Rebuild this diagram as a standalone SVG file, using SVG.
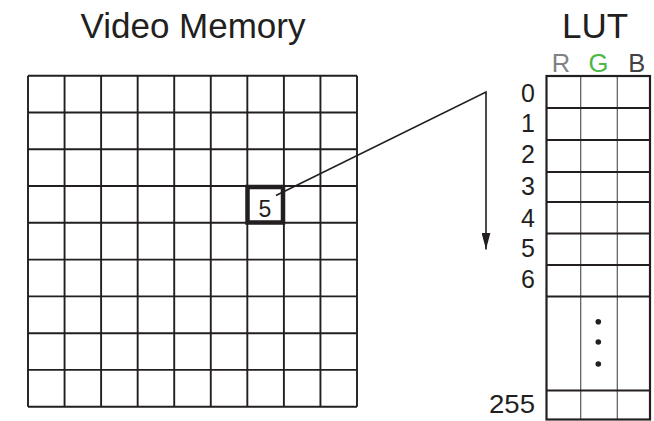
<svg xmlns="http://www.w3.org/2000/svg" width="654" height="421" viewBox="0 0 654 421">
  <style>
    text { font-family: "Liberation Sans", Arial, sans-serif; fill: #231f20; }
    .title { font-size: 35px; text-anchor: middle; }
    .hdr { font-size: 25.5px; text-anchor: middle; }
    .idx { font-size: 25px; text-anchor: end; }
    .grid { stroke: #231f20; stroke-width: 1.9; fill: none; }
    .hl { stroke: #231f20; stroke-width: 4.5; fill: none; }
    .lutH { stroke: #231f20; stroke-width: 2; fill: none; }
    .lutV { stroke: #58595b; stroke-width: 1.2; fill: none; }
    .lutO { stroke: #231f20; stroke-width: 2.2; fill: none; }
    .conn { stroke: #231f20; stroke-width: 1.6; fill: none; }
  </style>
  <defs>
    <marker id="arrow" viewBox="0 0 17 9" refX="17" refY="4.5" markerWidth="17" markerHeight="9" markerUnits="userSpaceOnUse" orient="auto">
      <path d="M0,0 L17,4.5 L0,9 z" fill="#231f20"/>
    </marker>
  </defs>
  <rect width="654" height="421" fill="#ffffff"/>

  <g id="video-memory">
    <text class="title" x="193" y="37.5">Video Memory</text>
    <path class="grid" d="M28,75.7V406.7 M64.56,75.7V406.7 M101.11,75.7V406.7 M137.67,75.7V406.7 M174.22,75.7V406.7 M210.78,75.7V406.7 M247.33,75.7V406.7 M283.89,75.7V406.7 M320.44,75.7V406.7 M357,75.7V406.7 M28,75.7H357 M28,112.5H357 M28,149.3H357 M28,186H357 M28,222.8H357 M28,259.6H357 M28,296.4H357 M28,333.2H357 M28,369.9H357 M28,406.7H357"/>
  </g>

  <g id="pixel-5">
    <rect class="hl" x="247.5" y="187" width="35.5" height="35.5"/>
    <text x="265" y="216.5" style="font-size:23px;text-anchor:middle">5</text>
  </g>

  <g id="lut">
    <text class="title" x="595" y="37.5">LUT</text>
    <text class="hdr" x="561" y="72" style="fill:#808285">R</text>
    <text class="hdr" x="598.3" y="72" style="fill:#4cb848">G</text>
    <text class="hdr" x="636.7" y="72" style="fill:#414042">B</text>
    <path class="lutV" d="M580.7,76V419.5 M617.3,76V419.5"/>
    <path class="lutH" d="M546,108H650 M546,140H650 M546,172H650 M546,202H650 M546,233.5H650 M546,265H650 M546,296.5H650 M546,390.5H650"/>
    <rect class="lutO" x="546.5" y="76" width="103.5" height="343.5"/>
    <circle cx="598.3" cy="321.7" r="2.8" fill="#231f20"/>
    <circle cx="598.3" cy="342" r="2.8" fill="#231f20"/>
    <circle cx="598.3" cy="364" r="2.8" fill="#231f20"/>
    <text class="idx" x="535" y="101.7">0</text>
    <text class="idx" x="535" y="131.7">1</text>
    <text class="idx" x="535" y="162.5">2</text>
    <text class="idx" x="535" y="195">3</text>
    <text class="idx" x="535" y="227.3">4</text>
    <text class="idx" x="535" y="256.7">5</text>
    <text class="idx" x="535" y="288">6</text>
    <text class="idx" x="535" y="413.3" style="font-size:26px" textLength="46" lengthAdjust="spacingAndGlyphs">255</text>
  </g>

  <g id="connectors">
    <polyline class="conn" points="276,195.5 486,92 486,249.5" marker-end="url(#arrow)"/>
  </g>
</svg>
